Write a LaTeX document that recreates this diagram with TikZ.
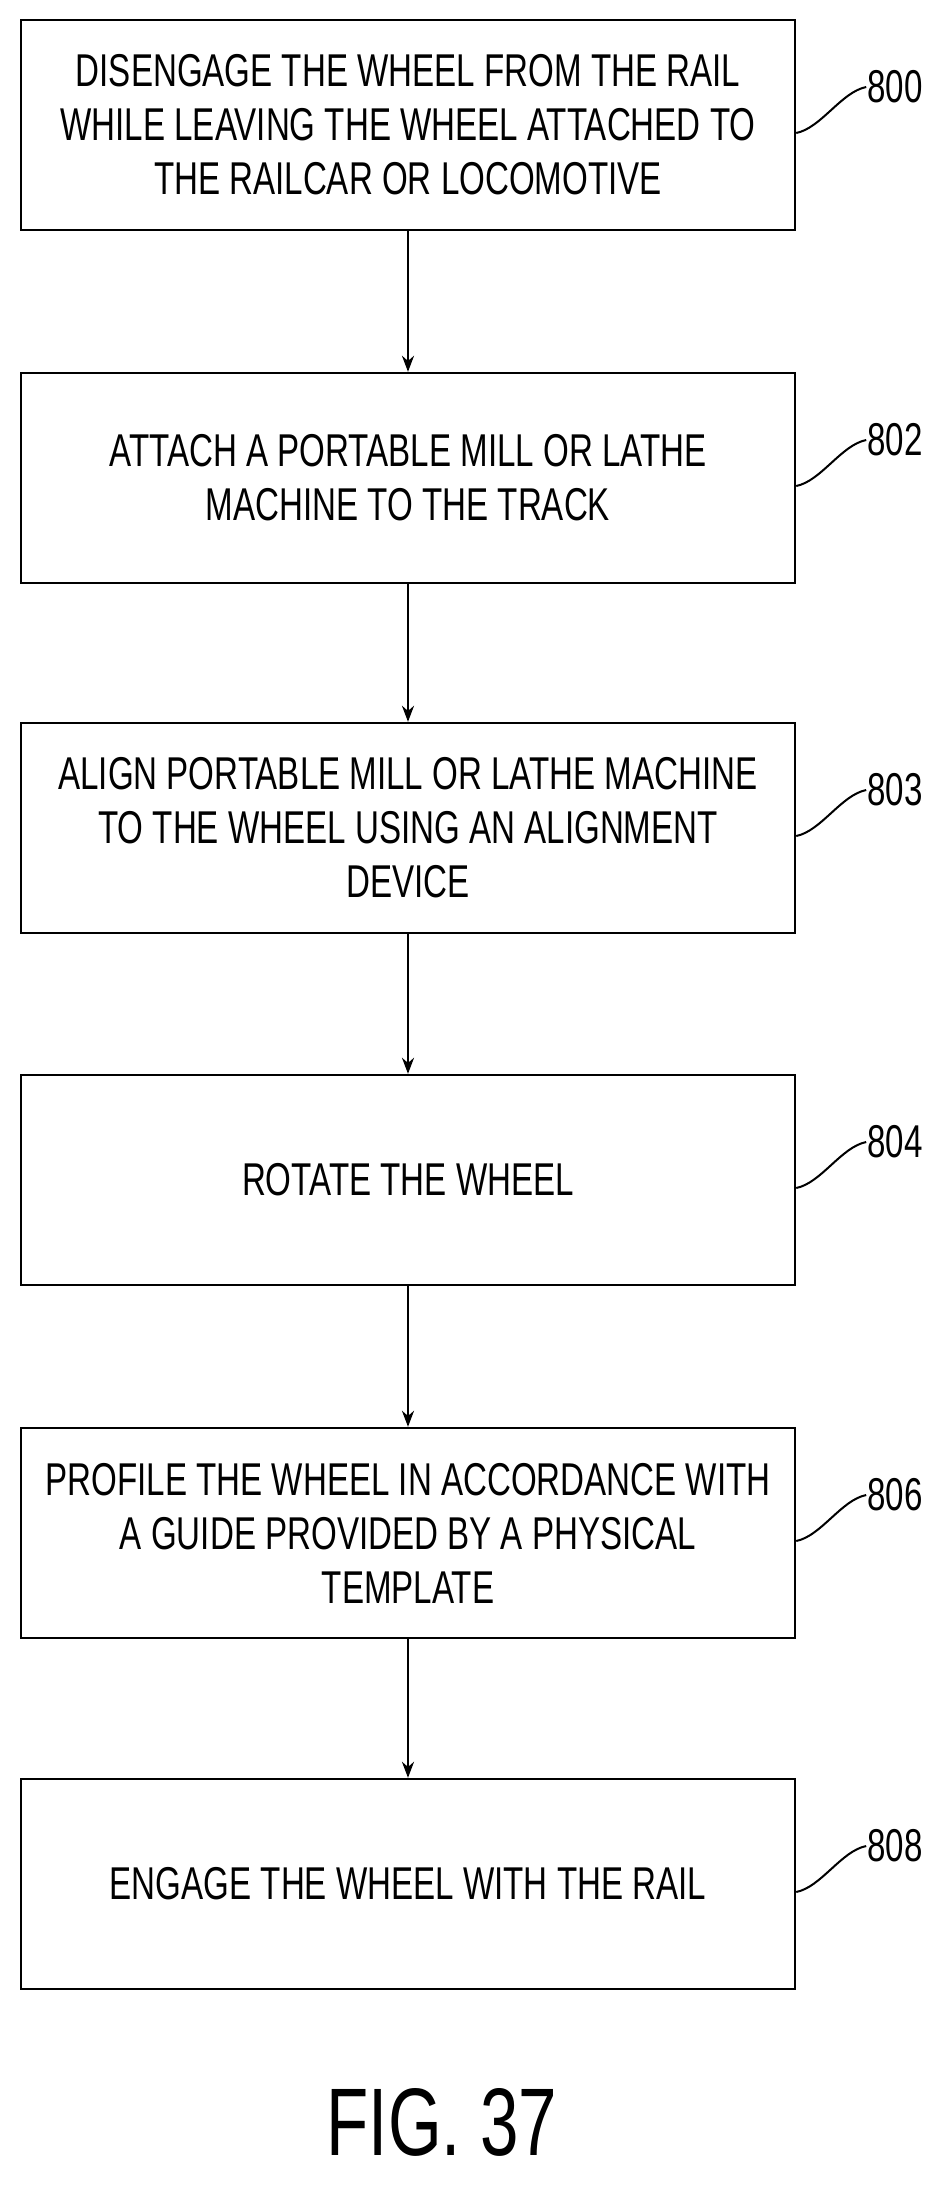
\documentclass[tikz,border=0pt]{standalone}
\usepackage{fontspec}
\setmainfont{Liberation Sans}[FakeStretch=0.72]
\usetikzlibrary{arrows.meta}
\begin{document}
\begin{tikzpicture}[x=1pt,y=-1pt,
  box/.style={draw,line width=2.4pt,minimum width=774pt,minimum height=210pt,align=center,font=\fontsize{46}{54}\selectfont,inner sep=0pt},
  lab/.style={font=\fontsize{46}{46}\selectfont},
  arr/.style={line width=2.4pt,-{Stealth[length=16pt,width=12pt]}}]
\useasboundingbox (0,0) rectangle (946,2187);
\node[box] (b1) at (408,125) {DISENGAGE THE WHEEL FROM THE RAIL\\WHILE LEAVING THE WHEEL ATTACHED TO\\THE RAILCAR OR LOCOMOTIVE};
\node[box] (b2) at (408,478) {ATTACH A PORTABLE MILL OR LATHE\\MACHINE TO THE TRACK};
\node[box] (b3) at (408,828) {ALIGN PORTABLE MILL OR LATHE MACHINE\\TO THE WHEEL USING AN ALIGNMENT\\DEVICE};
\node[box] (b4) at (408,1180) {ROTATE THE WHEEL};
\node[box] (b5) at (408,1533) {PROFILE THE WHEEL IN ACCORDANCE WITH\\A GUIDE PROVIDED BY A PHYSICAL\\TEMPLATE};
\node[box] (b6) at (408,1884) {ENGAGE THE WHEEL WITH THE RAIL};
\foreach \a/\b in {b1/b2,b2/b3,b3/b4,b4/b5,b5/b6} \draw[arr] (\a) -- (\b);
\foreach \n/\t in {b1/800,b2/802,b3/803,b4/804,b5/806,b6/808}{
  \coordinate (s\t) at ([yshift=-8pt]\n.east);
  \node[lab,anchor=west,inner sep=1pt] (l\t) at ([xshift=70pt,yshift=38pt]\n.east) {\t};
  \draw[line width=2pt] (s\t) .. controls +(25,-5) and +(-25,5) .. (l\t.west);
}
\node[font=\fontsize{96}{96}\selectfont] (fig) at (442,2122) {FIG. 37};
\end{tikzpicture}
\end{document}
